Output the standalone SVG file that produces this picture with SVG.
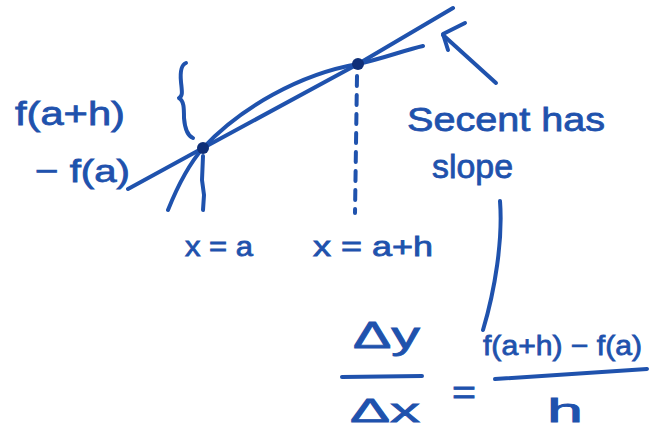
<svg xmlns="http://www.w3.org/2000/svg" width="653" height="432" viewBox="0 0 653 432">
<style>
.ink{fill:none;stroke:#1f52ad;stroke-width:4;stroke-linecap:round;stroke-linejoin:round}
.dash{stroke-dasharray:10 9}
.t{font-family:"Liberation Sans","DejaVu Sans",sans-serif;fill:#1f52ad;stroke:#1f52ad;stroke-width:0.8}
.dot{fill:#0f2f78}
</style>
<rect width="653" height="432" fill="#ffffff"/>
<g id="graph">
  <path id="secant" class="ink" d="M128,189 L203,148 L358,64 L453,8"/>
  <path id="curve" class="ink" d="M168,210 C178,185 190,163 203,148 C240,108 300,74 358,64 C385,58 405,50 423,46"/>
  <path id="vline-a" class="ink" d="M203,156 L202,180 L204,195 L203,210"/>
  <path id="vline-ah" class="ink dash" d="M357,76 L355,213"/>
  <path id="brace" class="ink" d="M186,63 C181,65 180,72 181,82 C182,92 183,96 179,98 C184,101 184,108 184,118 C185,130 188,136 193,138"/>
  <circle class="dot" cx="203" cy="148" r="6"/>
  <circle class="dot" cx="358" cy="64" r="6"/>
</g>
<g id="labels">
  <text class="t" x="15" y="125" font-size="34" textLength="110" lengthAdjust="spacingAndGlyphs">f(a+h)</text>
  <text class="t" x="35" y="182" font-size="32" textLength="95" lengthAdjust="spacingAndGlyphs">− f(a)</text>
  <text class="t" x="185" y="256" font-size="28" textLength="68" lengthAdjust="spacingAndGlyphs">x = a</text>
  <text class="t" x="313" y="256" font-size="28" textLength="120" lengthAdjust="spacingAndGlyphs">x = a+h</text>
</g>
<g id="note">
  <text class="t" x="407" y="131" font-size="34" textLength="198" lengthAdjust="spacingAndGlyphs">Secent has</text>
  <text class="t" x="432" y="178" font-size="34" textLength="81" lengthAdjust="spacingAndGlyphs">slope</text>
</g>
<g id="connectors">
  <path class="ink" d="M496,83 L443,35"/>
  <path class="ink" d="M465,23 L443,34 L448,50"/>
  <path class="ink" d="M500,201 C503,240 495,290 483,330"/>
</g>
<g id="formula">
  <text class="t" x="353" y="348" font-size="36" textLength="67" lengthAdjust="spacingAndGlyphs">Δy</text>
  <path class="ink" d="M342,377 L422,376"/>
  <text class="t" x="350" y="422" font-size="34" textLength="70" lengthAdjust="spacingAndGlyphs">Δx</text>
  <text class="t" x="452" y="404" font-size="34" textLength="24" lengthAdjust="spacingAndGlyphs">=</text>
  <text class="t" x="483" y="355" font-size="28" textLength="159" lengthAdjust="spacingAndGlyphs">f(a+h) − f(a)</text>
  <path class="ink" d="M495,379 L647,369"/>
  <text class="t" x="547" y="422" font-size="34" textLength="36" lengthAdjust="spacingAndGlyphs">h</text>
</g>
</svg>
